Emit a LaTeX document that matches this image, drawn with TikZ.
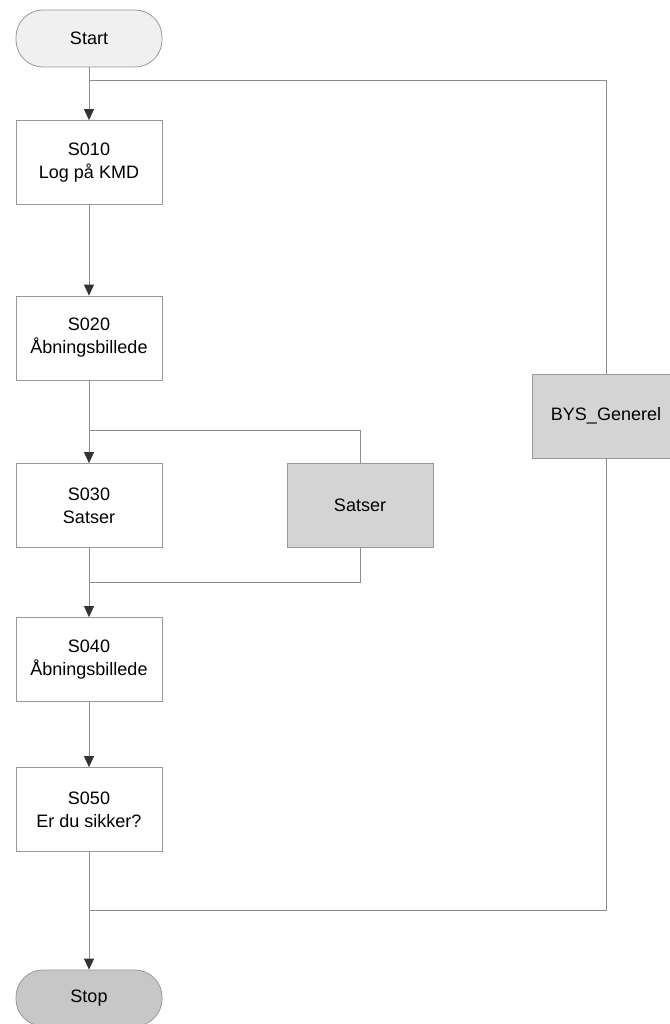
\documentclass[tikz,border=0pt]{standalone}
\usepackage{fontspec}
\setmainfont{Liberation Sans}
\usetikzlibrary{arrows.meta}

\begin{document}
\begin{tikzpicture}[x=1pt, y=-1pt, >={Triangle[length=11pt, width=10pt, color=black!80]},
    conn/.style={draw=black!45, line width=0.8pt},
    proc/.style={draw=black!40, line width=0.8pt, minimum width=146pt, minimum height=84pt,
                 align=center, inner sep=2pt, font=\fontsize{18}{23}\selectfont},
    subproc/.style={proc, fill=black!17},
    term/.style={proc, minimum height=57pt, rounded corners=27pt}]
  \useasboundingbox (0, 0) rectangle (669, 1024);

  % main column
  \node[term, fill=black!6] (start) at (89, 38.5) {Start};
  \node[proc] (s010) at (89, 162.5) {S010\\Log på KMD};
  \node[proc] (s020) at (89, 338) {S020\\Åbningsbillede};
  \node[proc] (s030) at (89, 505.5) {S030\\Satser};
  \node[proc] (s040) at (89, 659.5) {S040\\Åbningsbillede};
  \node[proc] (s050) at (89, 809.5) {S050\\Er du sikker?};
  \node[term, fill=black!22, minimum height=56pt] (stop) at (89, 998) {Stop};

  % side branches
  \node[subproc] (satser) at (360, 505) {Satser};
  \node[subproc, minimum width=148pt] (bys) at (606, 416) {BYS\_Generel};

  \coordinate (br1) at (89, 80);
  \coordinate (br2) at (89, 430);
  \coordinate (mg1) at (89, 582);
  \coordinate (mg2) at (89, 910);

  \draw[conn, ->] (start) -- (s010);
  \draw[conn, ->] (s010) -- (s020);
  \draw[conn, ->] (s020) -- (s030);
  \draw[conn, ->] (s030) -- (s040);
  \draw[conn, ->] (s040) -- (s050);
  \draw[conn, ->] (s050) -- (stop);

  \draw[conn] (br1) -| (bys);
  \draw[conn] (br2) -| (satser);
  \draw[conn] (satser) |- (mg1);
  \draw[conn] (bys) |- (mg2);
\end{tikzpicture}
\end{document}
